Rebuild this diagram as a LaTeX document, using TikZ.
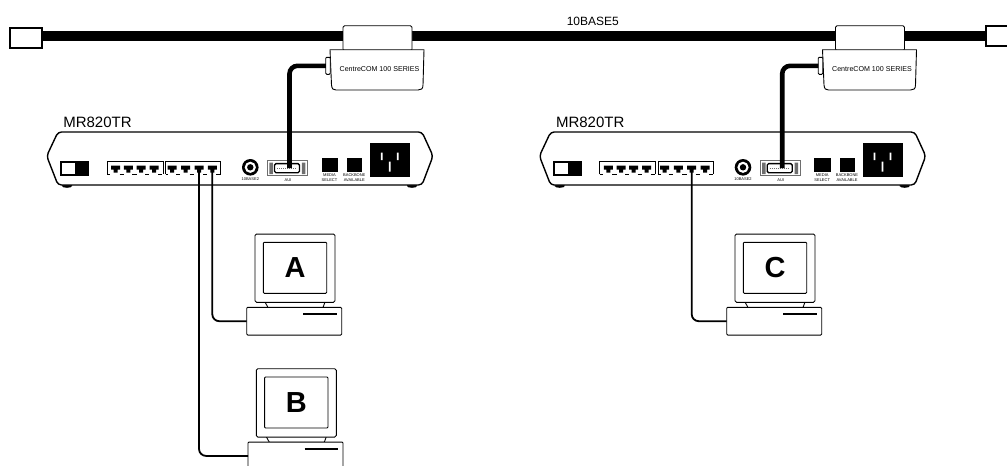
\documentclass[tikz,border=0pt]{standalone}
\usepackage{fontspec}
\setmainfont{Liberation Sans}
\usepackage{xcolor}
\usetikzlibrary{positioning}
\definecolor{ink}{RGB}{0,0,0}
\definecolor{aui_grey}{RGB}{110,110,110}
\newcommand{\tinylabel}{\fontsize{4}{5.3}\selectfont}
\tikzset{
    box/.style={draw=ink, fill=white, rectangle, line width=0.9pt, inner sep=0pt, outer sep=0pt},
    solid_box/.style={fill=ink, rectangle, inner sep=0pt, outer sep=0pt},
    small_label/.style={inner sep=0pt, align=center, font=\tinylabel},
    coax/.style={line width=10pt, draw=ink},
    aui_cable/.style={line width=4.6pt, draw=ink, rounded corners=8pt},
    patch/.style={line width=1.8pt, draw=ink, rounded corners=7pt},
    pics/pc/.style={code={
        \draw[line width=0.9pt, fill=white] (10,68) -- (13,73.5) -- (68,73.5) -- (70,68);
        \node[box, rounded corners=1.5pt, minimum width=80pt, minimum height=68.3pt] (-monitor) at (40,34.2) {};
        \node[box, rounded corners=1pt, minimum width=63.4pt, minimum height=51pt, font=\fontsize{29}{29}\selectfont\bfseries] (-screen) at (40,33.8) {#1};
        \node[box, rounded corners=1pt, minimum width=95pt, minimum height=27.7pt] (-base) at (39.2,87.2) {};
        \draw[line width=1.7pt] (48.3,80.3) -- (81.7,80.3);
    }},
    pics/transceiver/.style={code={
        \node[box, rounded corners=1.5pt, minimum width=69pt, minimum height=25pt] (-clamp) at (377.5,38.2) {};
        \draw[line width=0.9pt, fill=white] (330,49.7) -- (424,49.7) -- (423,85) .. controls (423,89) and (421,90) .. (418,90) -- (336,90) .. controls (333,90) and (332,89) .. (331.5,85) -- cycle;
        \node[box, rounded corners=1pt, minimum width=4.5pt, minimum height=17pt] (-tab) at (328,65.8) {};
        \node[inner sep=0pt, font=\fontsize{7.1}{8}\selectfont] (-name) at (379.5,69.5) {CentreCOM 100 SERIES};
    }},
    pics/hub/.style={code={
        \fill[ink] (62,184) rectangle (72,186) (407,184) rectangle (417,186);
        \fill[ink] (62,186) arc[start angle=180, end angle=360, x radius=5pt, y radius=1.8pt];
        \fill[ink] (407,186) arc[start angle=180, end angle=360, x radius=5pt, y radius=1.8pt];
        \draw[line width=1.4pt, fill=white, rounded corners=3.5pt] (58,132) -- (422,132) -- (433,156) -- (422,185) -- (58,185) -- (46.7,156) -- cycle;
        \node[inner sep=0pt, font=\fontsize{15}{15}\selectfont] (-name) at (97.5,122.3) {MR820TR};
        \node[box, line width=1.6pt, minimum width=27pt, minimum height=13pt] (-switch) at (74.5,168.5) {};
        \fill[ink] (75,162) rectangle (88,175);
        \draw[line width=1pt] (107,174) -- (107,161.7) -- (163,161.7) -- (163,174) (165.7,174) -- (165.7,161.7) -- (220.7,161.7) -- (220.7,174);
        \draw[line width=1pt] (107,174) -- (110,174) (165.7,174) -- (168,174);
        \foreach \px [count=\pn] in {115.7,128.3,141,154,172,185.7,199,212.3} {
            \fill[ink] (\px-4.5,165.5) -- (\px+4.5,165.5) -- (\px+4.5,169.5) -- (\px+2,169.5) -- (\px+2,172.5) -- (\px-2,172.5) -- (\px-2,169.5) -- (\px-4.5,169.5) -- cycle;
            \draw[line width=1pt] ({\px+4},174) -- ({\px+8.2},174);
            \coordinate (-p\pn) at (\px,169);
        }
        \node[circle, fill=ink, minimum size=16.6pt, inner sep=0pt] (-bnc) at (250.3,167.3) {};
        \fill[white] (-bnc) circle[radius=5.6pt];
        \fill[ink] (-bnc) circle[radius=3.2pt];
        \node[small_label] (-bnclabel) at (250.3,179.3) {10BASE2};
        \node[box, draw=aui_grey, line width=1pt, minimum width=40pt, minimum height=14.7pt] (-aui) at (287.3,168.3) {};
        \fill[aui_grey] (269.3,162.5) rectangle (272.8,174.2) (301.8,162.5) rectangle (305.3,174.2);
        \draw[line width=1.3pt, fill=white, rounded corners=1.5pt] (274.5,163.6) rectangle (299.5,172.8);
        \draw[aui_grey, line width=1pt, densely dotted] (277,168.2) -- (297,168.2);
        \node[small_label] (-auilabel) at (288,180) {AUI};
        \node[solid_box, minimum width=16.6pt, minimum height=14pt] (-media) at (330,164.7) {};
        \node[small_label] (-medialabel) at (329.5,177.8) {MEDIA\\SELECT};
        \node[solid_box, minimum width=15.3pt, minimum height=14pt] (-backbone) at (354.7,164.7) {};
        \node[small_label] (-backbonelabel) at (354.3,177.8) {BACKBONE\\AVAILABLE};
        \node[solid_box, minimum width=40pt, minimum height=33.4pt] (-power) at (390,160) {};
        \fill[white] (380.9,152.7) rectangle (382.6,160) (396.9,152.7) rectangle (398.6,160) (388.9,161.7) rectangle (390.6,171.7);
        \coordinate (-auipin) at (289.5,168);
    }},
}
\begin{document}
\begin{tikzpicture}[x=1pt, y=-1pt]
    \useasboundingbox (0,0) rectangle (1007,466);
    \clip (0,0) rectangle (1007,466);

    \node[box, line width=1.5pt, minimum width=32pt, minimum height=20pt] (term_left) at (26,38) {};
    \node[box, line width=1.5pt, minimum width=32pt, minimum height=20pt] (term_right) at (1002,36) {};
    \draw[coax] ([yshift=2pt]term_left.east) -- (term_right.west);
    \node[inner sep=0pt, font=\fontsize{12}{12}\selectfont, left=367pt of term_right.west, yshift=15pt] (coax_name) {10BASE5};

    \pic (hub_left) at (0,0) {hub};
    \pic (hub_right) at (492.7,0) {hub};
    \pic (tr_left) at (0,0) {transceiver};
    \pic (tr_right) at (492.5,0) {transceiver};

    \draw[aui_cable] (tr_left-tab.west) -| (hub_left-auipin);
    \draw[aui_cable] (tr_right-tab.west) -| (hub_right-auipin);

    \pic (pc_a) at (255,234) {pc=A};
    \pic (pc_b) at (256.3,368.7) {pc=B};
    \pic (pc_c) at (735,234) {pc=C};

    \draw[patch] (hub_left-p8) |- (pc_a-base.west);
    \draw[patch] (hub_left-p7) |- (pc_b-base.west);
    \draw[patch] (hub_right-p7) |- (pc_c-base.west);
\end{tikzpicture}
\end{document}
